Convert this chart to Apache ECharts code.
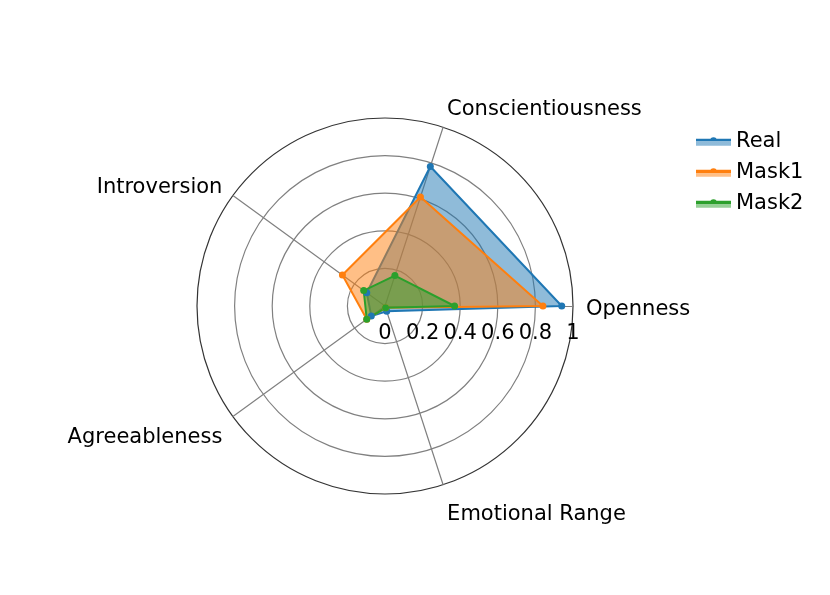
<!DOCTYPE html>
<html>
<head>
<meta charset="utf-8">
<script src="https://cdn.jsdelivr.net/npm/echarts@6/dist/echarts.min.js"></script>
<style>
html,body{margin:0;padding:0;background:#fff;}
#chart{width:830px;height:595px;}
</style>
</head>
<body>
<div id="chart"></div>
<script>
const categories = ['Openness', 'Conscientiousness', 'Introversion', 'Agreeableness', 'Emotional Range'];
const seriesNames = ['Real', 'Mask1', 'Mask2'];
const realValues = [0.94, 0.78, 0.12, 0.09, 0.03];
const mask1Values = [0.84, 0.61, 0.28, 0.12, 0.01];
const mask2Values = [0.37, 0.17, 0.14, 0.12, 0.01];
const colors = ['#1f77b4', '#ff7f0e', '#2ca02c'];
const lightColors = ['rgba(31,119,180,0.5)', 'rgba(255,127,14,0.5)', 'rgba(44,160,44,0.5)'];
const allValues = [realValues, mask1Values, mask2Values];

const FONT = 'DejaVu Sans';
const chart = echarts.init(document.getElementById('chart'), null, {renderer: 'canvas'});

const legendIcon = 'path://M0,1 L35,1 L35,8 L0,8 Z M14.2,2.7 A3.3,3.3 0 1 1 20.8,2.7 A3.3,3.3 0 1 1 14.2,2.7 Z';

// per-indicator label padding to mimic matplotlib tick label placement
const namePads = [[8, 0, 0, 0], [0, 0, 10, 0], [0, 0, 0, 0], [26, 0, 0, 0], [34, 0, 0, 0]];
const rich = {};
namePads.forEach((p, i) => {
  rich['p' + i] = {padding: p, fontSize: 21, color: '#000', fontFamily: FONT};
});

const option = {
  animation: false,
  backgroundColor: '#fff',
  legend: {
    orient: 'vertical',
    left: 691,
    top: 126,
    itemWidth: 35,
    itemHeight: 10,
    itemGap: 10,
    textStyle: {fontSize: 21, color: '#000', fontFamily: FONT},
    data: seriesNames.map((n, i) => ({
      name: n,
      icon: legendIcon,
      itemStyle: {
        color: new echarts.graphic.LinearGradient(0, 0, 0, 1, [
          {offset: 0, color: colors[i]},
          {offset: 0.5, color: colors[i]},
          {offset: 0.5, color: lightColors[i]},
          {offset: 1, color: lightColors[i]}
        ]),
        borderWidth: 0
      }
    }))
  },
  radar: {
    center: [385, 306],
    radius: 188,
    startAngle: 0,
    shape: 'circle',
    splitNumber: 5,
    nameGap: 13,
    axisName: {
      color: '#000', fontSize: 21, fontFamily: FONT,
      formatter: function (name) {
        const i = categories.indexOf(name);
        return '{p' + i + '|' + name + '}';
      },
      rich: rich
    },
    axisLine: {lineStyle: {color: '#808080', width: 1.2}},
    splitLine: {lineStyle: {color: ['#808080', '#808080', '#808080', '#808080', '#808080', '#333333'], width: 1.2}},
    splitArea: {show: false},
    axisTick: {show: false},
    axisLabel: {show: false, color: '#000', fontSize: 21, fontFamily: FONT, margin: -17, verticalAlign: 'top'},
    indicator: categories.map((c, i) => {
      const ind = {name: c, min: 0, max: 1};
      if (i === 0) ind.axisLabel = {show: true};
      return ind;
    })
  },
  series: [{
    type: 'radar',
    symbol: 'circle',
    symbolSize: 7,
    data: seriesNames.map((n, i) => ({
      name: n,
      value: allValues[i],
      itemStyle: {color: colors[i]},
      lineStyle: {color: colors[i], width: 2},
      areaStyle: {color: colors[i], opacity: 0.5}
    }))
  }]
};
chart.setOption(option);
</script>
</body>
</html>
